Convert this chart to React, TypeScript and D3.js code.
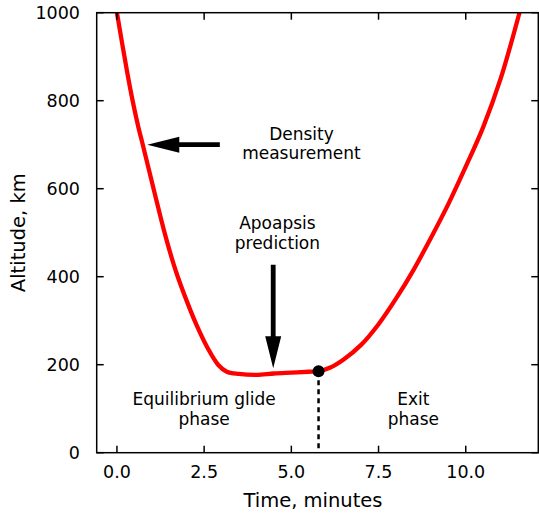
import React from "react";
import * as d3 from "d3";

const timeMin = [0, 0.15, 0.3, 0.45, 0.6, 0.75, 1.05, 1.4, 1.7, 2.0, 2.3, 2.6, 2.9, 3.15, 3.5, 4.0, 4.5, 5.0, 5.5, 5.78, 6.1, 6.5, 7.0, 7.5, 8.0, 8.5, 9.0, 9.5, 10.0, 10.5, 11.0, 11.54];
const altKm = [1000, 930, 862, 800, 745, 697, 600, 490, 410, 345, 287, 238, 200, 184, 179, 177, 180, 182, 184, 185, 193, 212, 245, 292, 350, 415, 488, 565, 650, 740, 850, 1000];

const xTicks = [0, 2.5, 5, 7.5, 10];
const yTicks = [0, 200, 400, 600, 800, 1000];

const exitPoint = { t: 5.78, alt: 185 };

const annotations = [
  { lines: ["Density", "measurement"], t: 5.29, alt: 711 },
  { lines: ["Apoapsis", "prediction"], t: 4.6, alt: 508 },
  { lines: ["Equilibrium glide", "phase"], t: 2.5, alt: 108 },
  { lines: ["Exit", "phase"], t: 8.5, alt: 108 },
];

const arrows = [
  { from: [2.95, 700], to: [0.87, 700] },
  { from: [4.48, 427], to: [4.48, 192] },
];

const W = 539;
const H = 515;
const FONT = "DejaVu Sans, sans-serif";

export default function App() {
  const x = d3.scaleLinear().domain([-0.58, 12.08]).range([96.7, 538.3]);
  const y = d3.scaleLinear().domain([0, 1000]).range([452.7, 12.7]);
  const [x0, x1] = x.range();
  const [y0, y1] = y.range();

  const pts: [number, number][] = timeMin.map((t, i) => [t, altKm[i]]);
  const line = d3
    .line<[number, number]>()
    .x((d) => x(d[0]))
    .y((d) => y(d[1]))
    .curve(d3.curveCatmullRom.alpha(0.5));

  const tickLen = 7;

  const arrowPath = (a: { from: number[]; to: number[] }) => {
    const fx = x(a.from[0]), fy = y(a.from[1]);
    const tx = x(a.to[0]), ty = y(a.to[1]);
    const dx = tx - fx, dy = ty - fy;
    const L = Math.hypot(dx, dy);
    const ux = dx / L, uy = dy / L;
    const px = -uy, py = ux;
    const headL = 32, headW = 8, shaftW = 2.4;
    const bx = tx - ux * headL, by = ty - uy * headL;
    const p = [
      [fx + px * shaftW, fy + py * shaftW],
      [bx + px * shaftW, by + py * shaftW],
      [bx + px * headW, by + py * headW],
      [tx, ty],
      [bx - px * headW, by - py * headW],
      [bx - px * shaftW, by - py * shaftW],
      [fx - px * shaftW, fy - py * shaftW],
    ];
    return "M" + p.map((q) => q.join(",")).join("L") + "Z";
  };

  return (
    <svg
      width={W}
      height={H}
      style={{ position: "absolute", left: 0, top: 0, background: "#fff" }}
      fontFamily={FONT}
    >
      <rect x={0} y={0} width={W} height={H} fill="#fff" />
      <defs>
        <clipPath id="plotclip">
          <rect x={x0} y={y1} width={x1 - x0} height={y0 - y1} />
        </clipPath>
      </defs>
      {/* curve */}
      <path
        d={line(pts) || ""}
        fill="none"
        stroke="#ff0000"
        strokeWidth={4.3}
        strokeLinejoin="round"
        clipPath="url(#plotclip)"
      />
      {/* dashed line */}
      <line
        x1={x(exitPoint.t)}
        x2={x(exitPoint.t)}
        y1={y(exitPoint.alt)}
        y2={y(0)}
        stroke="#000"
        strokeWidth={2.5}
        strokeDasharray="5,4"
      />
      <circle cx={x(exitPoint.t)} cy={y(exitPoint.alt)} r={6} fill="#000" />
      {/* arrows */}
      {arrows.map((a, i) => (
        <path key={i} d={arrowPath(a)} fill="#000" />
      ))}
      {/* annotations */}
      {annotations.map((a, i) => (
        <text key={i} x={x(a.t)} y={y(a.alt)} textAnchor="middle" fontSize={17} fill="#000">
          {a.lines.map((l, j) => (
            <tspan key={j} x={x(a.t)} dy={j === 0 ? 0 : 19.5}>
              {l}
            </tspan>
          ))}
        </text>
      ))}
      {/* frame */}
      <rect x={x0} y={y1} width={x1 - x0} height={y0 - y1} fill="none" stroke="#000" strokeWidth={1.5} />
      {/* x ticks */}
      {xTicks.map((t) => (
        <g key={"x" + t}>
          <line x1={x(t)} x2={x(t)} y1={y0} y2={y0 - tickLen} stroke="#000" strokeWidth={1.5} />
          <line x1={x(t)} x2={x(t)} y1={y1} y2={y1 + tickLen} stroke="#000" strokeWidth={1.5} />
          <text x={x(t)} y={478.3} textAnchor="middle" fontSize={17.5} fill="#000">
            {t.toFixed(1)}
          </text>
        </g>
      ))}
      {/* y ticks */}
      {yTicks.map((v) => (
        <g key={"y" + v}>
          <line x1={x0} x2={x0 + tickLen} y1={y(v)} y2={y(v)} stroke="#000" strokeWidth={1.5} />
          <line x1={x1} x2={x1 - tickLen} y1={y(v)} y2={y(v)} stroke="#000" strokeWidth={1.5} />
          <text x={80} y={y(v)} dy="0.36em" textAnchor="end" fontSize={17.5} fill="#000">
            {v}
          </text>
        </g>
      ))}
      {/* axis labels */}
      <text x={313} y={506.5} textAnchor="middle" fontSize={19.5} fill="#000">
        Time, minutes
      </text>
      <text
        transform={`translate(24.5, ${(y0 + y1) / 2}) rotate(-90)`}
        textAnchor="middle"
        fontSize={19.5}
        fill="#000"
      >
        Altitude, km
      </text>
    </svg>
  );
}
